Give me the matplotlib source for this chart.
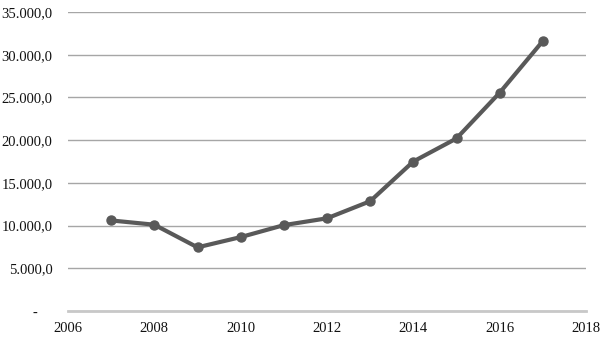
import matplotlib
matplotlib.use("Agg")
import matplotlib.pyplot as plt
from matplotlib.ticker import FuncFormatter

years = [2007, 2008, 2009, 2010, 2011, 2012, 2013, 2014, 2015, 2016, 2017]
values = [10600, 10100, 7450, 8650, 10050, 10850, 12850, 17500, 20200, 25550, 31600]

y_ticks = [0, 5000, 10000, 15000, 20000, 25000, 30000, 35000]
x_ticks = [2006, 2008, 2010, 2012, 2014, 2016, 2018]


def fmt_num(v, pos=None):
    if v == 0:
        return "-    "
    s = "{:,.1f}".format(v)
    return s.replace(",", "X").replace(".", ",").replace("X", ".")


plt.rcParams["font.family"] = ["Liberation Serif", "DejaVu Serif"]

fig = plt.figure(figsize=(6.06, 3.38), dpi=100)
ax = fig.add_axes([68 / 606, 27 / 338, 518 / 606, 299 / 338])

ax.set_xlim(2006, 2018)
ax.set_ylim(0, 35000)
ax.set_yticks(y_ticks)
ax.set_xticks(x_ticks)
ax.yaxis.set_major_formatter(FuncFormatter(fmt_num))

ax.grid(axis="y", color="#a6a6a6", linewidth=1.0)
ax.set_axisbelow(True)
for side in ["top", "right", "left"]:
    ax.spines[side].set_visible(False)
ax.spines["bottom"].set_color("#c8c8c8")
ax.spines["bottom"].set_linewidth(2.0)

ax.tick_params(axis="both", length=0, labelsize=10.5, colors="#111111")
ax.tick_params(axis="y", pad=11)
ax.tick_params(axis="x", pad=8)

ax.plot(years, values, color="#595959", linewidth=3, marker="o",
        markersize=6.5, solid_capstyle="round")

fig.savefig("out.png", dpi=100)
